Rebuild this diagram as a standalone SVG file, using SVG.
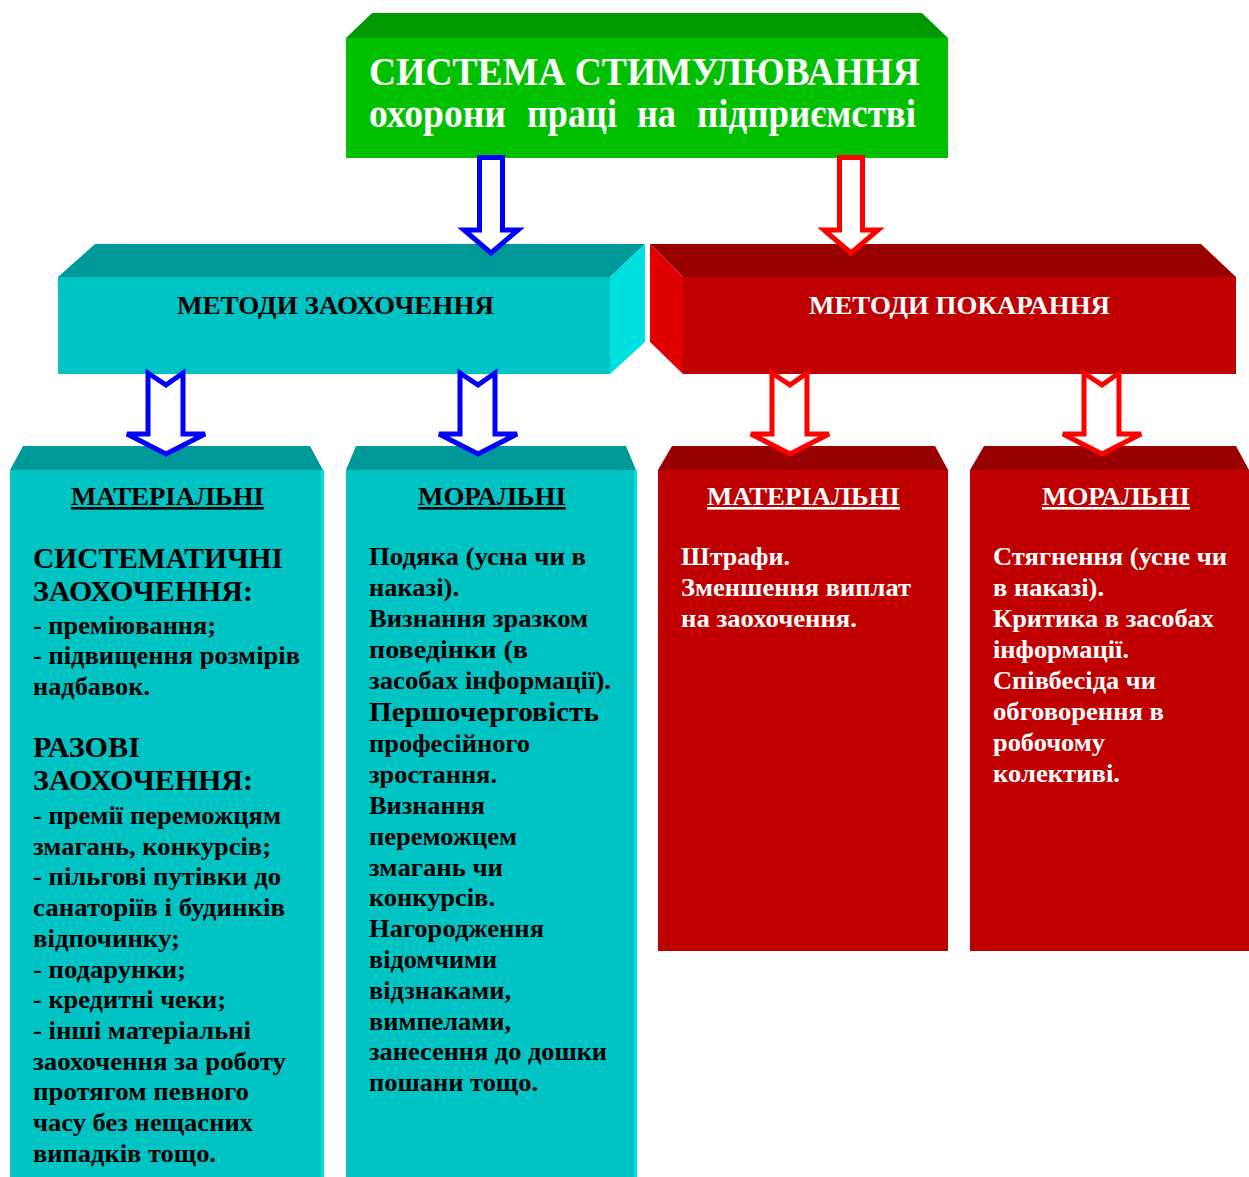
<svg xmlns="http://www.w3.org/2000/svg" width="1249" height="1177" viewBox="0 0 1249 1177">
  <style>
    text { font-family: "Liberation Serif", "Times New Roman", serif; font-weight: bold; }
    .title { font-size: 39px; fill: #ffffff; }
    .head { font-size: 26px; }
    .sub { font-size: 26px; text-decoration: underline; }
    .body { font-size: 25px; }
    .big { font-size: 29px; }
    .dark { fill: #000000; }
    .light { fill: #ffffff; }
    .arrow-blue { fill: #ffffff; stroke: #0000ff; stroke-width: 5; stroke-linejoin: miter; }
    .arrow-red { fill: #ffffff; stroke: #ff0000; stroke-width: 5; stroke-linejoin: miter; }
    .g-front { fill: #00c000; }
    .g-top { fill: #009900; }
    .t-front { fill: #00c4c4; }
    .t-top { fill: #009999; }
    .t-side { fill: #00e0e0; }
    .r-front { fill: #c00000; }
    .r-top { fill: #990000; }
    .r-side { fill: #e00000; }
  </style>

  <rect width="1249" height="1177" fill="#ffffff"/>

  <!-- Top title block -->
  <g id="node-system">
    <polygon class="g-top" points="346,38 372,13 922,13 948,38"/>
    <rect class="g-front" x="346" y="38" width="602" height="120"/>
    <text class="title" x="369" y="85" textLength="551" lengthAdjust="spacingAndGlyphs">СИСТЕМА СТИМУЛЮВАННЯ</text>
    <text class="title" x="369" y="127" textLength="137" lengthAdjust="spacingAndGlyphs">охорони</text>
    <text class="title" x="527" y="127" textLength="90" lengthAdjust="spacingAndGlyphs">праці</text>
    <text class="title" x="637" y="127" textLength="39" lengthAdjust="spacingAndGlyphs">на</text>
    <text class="title" x="697" y="127" textLength="219" lengthAdjust="spacingAndGlyphs">підприємстві</text>
  </g>

  <!-- Encouragement methods -->
  <g id="node-encourage">
    <polygon class="t-top" points="58,277 95,244 645,244 610,277"/>
    <polygon class="t-side" points="610,277 645,244 645,342 610,374"/>
    <rect class="t-front" x="58" y="277" width="552" height="97"/>
    <text class="head dark" x="177" y="314" textLength="317" lengthAdjust="spacingAndGlyphs">МЕТОДИ ЗАОХОЧЕННЯ</text>
  </g>

  <!-- Punishment methods -->
  <g id="node-punish">
    <polygon class="r-top" points="650,244 1201,244 1236,277 683,277"/>
    <polygon class="r-side" points="650,244 683,277 683,374 650,342"/>
    <rect class="r-front" x="683" y="277" width="553" height="97"/>
    <text class="head light" x="809" y="314" textLength="301" lengthAdjust="spacingAndGlyphs">МЕТОДИ ПОКАРАННЯ</text>
  </g>

  <!-- Material encouragement -->
  <g id="node-enc-material">
    <polygon class="t-top" points="10,470 23,446 310,446 323,470"/>
    <rect class="t-front" x="10" y="470" width="313" height="707"/>
    <rect class="t-side" x="321" y="470" width="3" height="707"/>
    <text class="sub dark" x="71" y="505" textLength="193" lengthAdjust="spacingAndGlyphs">МАТЕРІАЛЬНІ</text>
    <g class="dark">
      <text class="big" x="33" y="568" textLength="250" lengthAdjust="spacingAndGlyphs">СИСТЕМАТИЧНІ</text>
      <text class="big" x="33" y="601" textLength="220" lengthAdjust="spacingAndGlyphs">ЗАОХОЧЕННЯ:</text>
      <text class="body" x="33" y="634" textLength="183" lengthAdjust="spacingAndGlyphs">- преміювання;</text>
      <text class="body" x="33" y="664" textLength="267" lengthAdjust="spacingAndGlyphs">- підвищення розмірів</text>
      <text class="body" x="33" y="695" textLength="117" lengthAdjust="spacingAndGlyphs">надбавок.</text>
      <text class="big" x="33" y="757" textLength="107" lengthAdjust="spacingAndGlyphs">РАЗОВІ</text>
      <text class="big" x="33" y="790" textLength="220" lengthAdjust="spacingAndGlyphs">ЗАОХОЧЕННЯ:</text>
      <text class="body" x="33" y="824" textLength="248" lengthAdjust="spacingAndGlyphs">- премії переможцям</text>
      <text class="body" x="33" y="855" textLength="238" lengthAdjust="spacingAndGlyphs">змагань, конкурсів;</text>
      <text class="body" x="33" y="885" textLength="248" lengthAdjust="spacingAndGlyphs">- пільгові путівки до</text>
      <text class="body" x="33" y="916" textLength="252" lengthAdjust="spacingAndGlyphs">санаторіїв і будинків</text>
      <text class="body" x="33" y="947" textLength="147" lengthAdjust="spacingAndGlyphs">відпочинку;</text>
      <text class="body" x="33" y="978" textLength="153" lengthAdjust="spacingAndGlyphs">- подарунки;</text>
      <text class="body" x="33" y="1008" textLength="193" lengthAdjust="spacingAndGlyphs">- кредитні чеки;</text>
      <text class="body" x="33" y="1039" textLength="218" lengthAdjust="spacingAndGlyphs">- інші матеріальні</text>
      <text class="body" x="33" y="1070" textLength="253" lengthAdjust="spacingAndGlyphs">заохочення за роботу</text>
      <text class="body" x="33" y="1100" textLength="216" lengthAdjust="spacingAndGlyphs">протягом певного</text>
      <text class="body" x="33" y="1131" textLength="220" lengthAdjust="spacingAndGlyphs">часу без нещасних</text>
      <text class="body" x="33" y="1162" textLength="183" lengthAdjust="spacingAndGlyphs">випадків тощо.</text>
    </g>
  </g>

  <!-- Moral encouragement -->
  <g id="node-enc-moral">
    <polygon class="t-top" points="346,470 356,446 626,446 636,470"/>
    <rect class="t-front" x="346" y="470" width="290" height="707"/>
    <rect class="t-side" x="634" y="470" width="3" height="707"/>
    <text class="sub dark" x="418" y="505" textLength="148" lengthAdjust="spacingAndGlyphs">МОРАЛЬНІ</text>
    <g class="dark">
      <text class="body" x="369" y="565" textLength="217" lengthAdjust="spacingAndGlyphs">Подяка (усна чи в</text>
      <text class="body" x="369" y="596" textLength="90" lengthAdjust="spacingAndGlyphs">наказі).</text>
      <text class="body" x="369" y="627" textLength="219" lengthAdjust="spacingAndGlyphs">Визнання зразком</text>
      <text class="body" x="369" y="658" textLength="159" lengthAdjust="spacingAndGlyphs">поведінки (в</text>
      <text class="body" x="369" y="689" textLength="242" lengthAdjust="spacingAndGlyphs">засобах інформації).</text>
      <text class="body" x="369" y="721" textLength="230" lengthAdjust="spacingAndGlyphs" style="font-size:27px">Першочерговість</text>
      <text class="body" x="369" y="752" textLength="161" lengthAdjust="spacingAndGlyphs">професійного</text>
      <text class="body" x="369" y="783" textLength="128" lengthAdjust="spacingAndGlyphs">зростання.</text>
      <text class="body" x="369" y="814" textLength="116" lengthAdjust="spacingAndGlyphs">Визнання</text>
      <text class="body" x="369" y="845" textLength="148" lengthAdjust="spacingAndGlyphs">переможцем</text>
      <text class="body" x="369" y="876" textLength="134" lengthAdjust="spacingAndGlyphs">змагань чи</text>
      <text class="body" x="369" y="906" textLength="126" lengthAdjust="spacingAndGlyphs">конкурсів.</text>
      <text class="body" x="369" y="937" textLength="175" lengthAdjust="spacingAndGlyphs">Нагородження</text>
      <text class="body" x="369" y="968" textLength="128" lengthAdjust="spacingAndGlyphs">відомчими</text>
      <text class="body" x="369" y="999" textLength="142" lengthAdjust="spacingAndGlyphs">відзнаками,</text>
      <text class="body" x="369" y="1030" textLength="142" lengthAdjust="spacingAndGlyphs">вимпелами,</text>
      <text class="body" x="369" y="1060" textLength="238" lengthAdjust="spacingAndGlyphs">занесення до дошки</text>
      <text class="body" x="369" y="1091" textLength="169" lengthAdjust="spacingAndGlyphs">пошани тощо.</text>
    </g>
  </g>

  <!-- Material punishment -->
  <g id="node-pun-material">
    <polygon class="r-top" points="658,470 672,446 935,446 948,470"/>
    <rect class="r-front" x="658" y="470" width="290" height="481"/>
    <text class="sub light" x="707" y="505" textLength="193" lengthAdjust="spacingAndGlyphs">МАТЕРІАЛЬНІ</text>
    <g class="light">
      <text class="body" x="681" y="565" textLength="109" lengthAdjust="spacingAndGlyphs">Штрафи.</text>
      <text class="body" x="681" y="596" textLength="230" lengthAdjust="spacingAndGlyphs">Зменшення виплат</text>
      <text class="body" x="681" y="627" textLength="176" lengthAdjust="spacingAndGlyphs">на заохочення.</text>
    </g>
  </g>

  <!-- Moral punishment -->
  <g id="node-pun-moral">
    <polygon class="r-top" points="970,470 984,446 1236,446 1249,470"/>
    <rect class="r-front" x="970" y="470" width="279" height="481"/>
    <text class="sub light" x="1042" y="505" textLength="148" lengthAdjust="spacingAndGlyphs">МОРАЛЬНІ</text>
    <g class="light">
      <text class="body" x="993" y="565" textLength="234" lengthAdjust="spacingAndGlyphs">Стягнення (усне чи</text>
      <text class="body" x="993" y="596" textLength="111" lengthAdjust="spacingAndGlyphs">в наказі).</text>
      <text class="body" x="993" y="627" textLength="221" lengthAdjust="spacingAndGlyphs">Критика в засобах</text>
      <text class="body" x="993" y="658" textLength="136" lengthAdjust="spacingAndGlyphs">інформації.</text>
      <text class="body" x="993" y="689" textLength="163" lengthAdjust="spacingAndGlyphs">Співбесіда чи</text>
      <text class="body" x="993" y="720" textLength="171" lengthAdjust="spacingAndGlyphs">обговорення в</text>
      <text class="body" x="993" y="751" textLength="112" lengthAdjust="spacingAndGlyphs">робочому</text>
      <text class="body" x="993" y="782" textLength="127" lengthAdjust="spacingAndGlyphs">колективі.</text>
    </g>
  </g>

  <!-- Block arrows between levels -->
  <g id="connectors">
    <polygon class="arrow-blue" points="479.5,157.5 502.5,157.5 502.5,230 518,230 491,253 464,230 479.5,230"/>
    <polygon class="arrow-red" points="839.5,157.5 862.5,157.5 862.5,230 878,230 851,253 824,230 839.5,230"/>

    <polygon class="arrow-blue" points="148,373 166,385 183,373 183,434 205,434 166,454 127,434 148,434"/>
    <polygon class="arrow-blue" points="460,373 478,385 495,373 495,434 517,434 478,454 439,434 460,434"/>
    <polygon class="arrow-red" points="772,373 790,385 807,373 807,434 829,434 790,454 751,434 772,434"/>
    <polygon class="arrow-red" points="1084,373 1102,385 1119,373 1119,434 1141,434 1102,454 1063,434 1084,434"/>
  </g>
</svg>
